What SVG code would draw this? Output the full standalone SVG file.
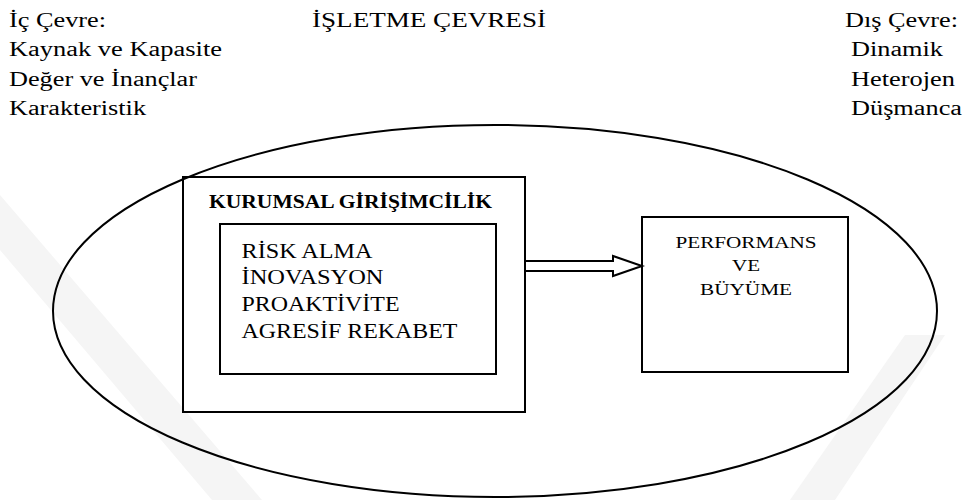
<svg xmlns="http://www.w3.org/2000/svg" width="965" height="500" viewBox="0 0 965 500">
<style>
  text { font-family: "Liberation Serif", "Times New Roman", serif; fill: #000; }
  .t { font-size: 20px; }
  .b { font-size: 18px; font-weight: bold; }
  .p { font-size: 17px; text-anchor: middle; }
  .box { fill: none; stroke: #000; stroke-width: 2; }
  .wm { fill: #f5f5f5; stroke: none; }
</style>
<rect width="965" height="500" fill="#fff"/>
<g id="watermark">
  <polygon class="wm" points="0,195 0,250 212,500 262,500"/>
  <polygon class="wm" points="905,335 945,335 835,500 790,500"/>
</g>
<g id="header">
  <text class="t" x="9" y="26.5" textLength="97" lengthAdjust="spacingAndGlyphs">İç Çevre:</text>
  <text class="t" x="9" y="56" textLength="213" lengthAdjust="spacingAndGlyphs">Kaynak ve Kapasite</text>
  <text class="t" x="9" y="85.5" textLength="188" lengthAdjust="spacingAndGlyphs">Değer ve İnançlar</text>
  <text class="t" x="9" y="115" textLength="137" lengthAdjust="spacingAndGlyphs">Karakteristik</text>
  <text class="t" x="312" y="26.5" textLength="234" lengthAdjust="spacingAndGlyphs">İŞLETME ÇEVRESİ</text>
  <text class="t" x="845" y="26.5" textLength="113" lengthAdjust="spacingAndGlyphs">Dış Çevre:</text>
  <text class="t" x="851" y="56" textLength="92" lengthAdjust="spacingAndGlyphs">Dinamik</text>
  <text class="t" x="851" y="85.5" textLength="104" lengthAdjust="spacingAndGlyphs">Heterojen</text>
  <text class="t" x="851" y="115" textLength="111" lengthAdjust="spacingAndGlyphs">Düşmanca</text>
</g>
<g id="environment">
  <ellipse cx="495" cy="311" rx="442" ry="186" fill="none" stroke="#000" stroke-width="2"/>
</g>
<g id="kurumsal">
  <rect class="box" x="183" y="177" width="342" height="235"/>
  <text class="b" x="209" y="208" textLength="283" lengthAdjust="spacingAndGlyphs">KURUMSAL GİRİŞİMCİLİK</text>
</g>
<g id="boyutlar">
  <rect class="box" x="220" y="224" width="276" height="150"/>
  <text class="t" x="241.5" y="257.5" textLength="131" lengthAdjust="spacingAndGlyphs">RİSK ALMA</text>
  <text class="t" x="241.5" y="284.3" textLength="142" lengthAdjust="spacingAndGlyphs">İNOVASYON</text>
  <text class="t" x="241.5" y="311" textLength="158" lengthAdjust="spacingAndGlyphs">PROAKTİVİTE</text>
  <text class="t" x="241.5" y="337.7" textLength="216" lengthAdjust="spacingAndGlyphs">AGRESİF REKABET</text>
</g>
<g id="performans">
  <rect class="box" x="642" y="217" width="206" height="155"/>
  <text class="p" x="746" y="248" textLength="141" lengthAdjust="spacingAndGlyphs">PERFORMANS</text>
  <text class="p" x="746" y="271" textLength="28" lengthAdjust="spacingAndGlyphs">VE</text>
  <text class="p" x="746" y="295" textLength="92" lengthAdjust="spacingAndGlyphs">BÜYÜME</text>
</g>
<g id="connectors">
  <polygon points="525,261 613,261 613,256 642,266 613,276 613,271 525,271" fill="#fff" stroke="#000" stroke-width="2" stroke-linejoin="miter"/>
</g>
</svg>
